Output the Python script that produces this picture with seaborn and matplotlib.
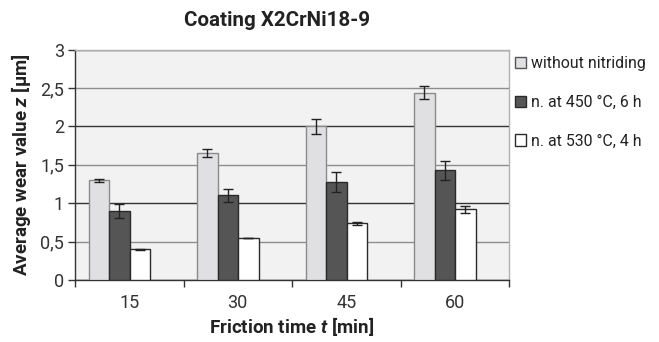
import numpy as np
import pandas as pd
import matplotlib
matplotlib.use('Agg')
import matplotlib.pyplot as plt
import seaborn as sns
from matplotlib.patches import Patch
from matplotlib.ticker import FuncFormatter, FixedLocator

# data
times = ['15', '30', '45', '60']
series = ['without nitriding', 'n. at 450 °C, 6 h', 'n. at 530 °C, 4 h']
wear_plain = [1.30, 1.65, 2.00, 2.44]
wear_450 = [0.90, 1.10, 1.27, 1.43]
wear_530 = [0.40, 0.55, 0.74, 0.92]
err_plain = [0.02, 0.05, 0.10, 0.08]
err_450 = [0.09, 0.09, 0.13, 0.125]
err_530 = [0.005, 0.0, 0.02, 0.045]

fills = ['#e0e0e2', '#555555', '#ffffff']
edges = ['#8a8a8a', '#2a2a2a', '#2a2a2a']

df = pd.DataFrame({
    'time': times * 3,
    'series': np.repeat(series, len(times)),
    'wear': wear_plain + wear_450 + wear_530,
})
vals_all = [wear_plain, wear_450, wear_530]
errs = [err_plain, err_450, err_530]

sns.set_theme(style='white')
plt.rcParams['font.family'] = ['Roboto', 'DejaVu Sans']
plt.rcParams['mathtext.fontset'] = 'custom'
plt.rcParams['mathtext.it'] = 'Roboto:bold:italic'
plt.rcParams['mathtext.rm'] = 'Roboto:bold'

fig = plt.figure(figsize=(6.59, 3.42), dpi=100)
ax = fig.add_axes([75 / 659, 62 / 342, 434 / 659, 230.5 / 342])
ax.set_facecolor('#f2f2f2')

sns.barplot(data=df, x='time', y='wear', hue='series', order=times, hue_order=series,
            palette=fills, width=0.567, gap=0, errorbar=None, legend=False,
            saturation=1, ax=ax, zorder=3)

bar_conts = list(ax.containers)
for i, cont in enumerate(bar_conts):
    xs = []
    for bar in cont:
        bar.set_edgecolor(edges[i])
        bar.set_linewidth(1.0)
        xs.append(bar.get_x() + bar.get_width() / 2)
    ax.errorbar(xs, vals_all[i], yerr=errs[i], fmt='none', ecolor='#222222',
                elinewidth=1.0, capsize=3.8, capthick=1.0, zorder=4)

# axes limits and ticks
ax.set_ylim(0, 3)
ax.set_xlim(-0.41, 3.59)
ax.yaxis.set_major_locator(FixedLocator(np.arange(0, 3.01, 0.5)))
ax.yaxis.set_major_formatter(FuncFormatter(lambda v, p: f'{v:g}'.replace('.', ',')))
ax.tick_params(axis='y', which='major', length=5, width=1, color='#333333',
               direction='out', left=True, labelsize=13, labelcolor='#333333', pad=3)

ax.set_xticks([k + 0.09 for k in range(len(times))])
ax.set_xticklabels(times)
ax.xaxis.set_minor_locator(FixedLocator([k - 0.41 for k in range(len(times) + 1)]))
ax.tick_params(axis='x', which='major', length=0, labelsize=13, labelcolor='#333333', pad=10)
ax.tick_params(axis='x', which='minor', length=5, width=1, color='#333333',
               direction='out', bottom=True)

ax.grid(True, axis='y', zorder=0)
for k, gl in enumerate(ax.get_ygridlines()):
    gl.set_linewidth(1.0)
    gl.set_color('#333333' if k % 2 == 0 else '#8c8c8c')
    gl.set_zorder(1)
ax.set_axisbelow(True)

for side in ['top', 'right']:
    ax.spines[side].set_color('#b0b0b0')
    ax.spines[side].set_linewidth(1.0)
for side in ['left', 'bottom']:
    ax.spines[side].set_color('#333333')
    ax.spines[side].set_linewidth(1.0)

ax.set_xlabel('Friction time $t$ [min]', fontsize=13.5, fontweight='bold', color='#222222', labelpad=2)
ax.set_ylabel('Average wear value $z$ [µm]', fontsize=13.5, fontweight='bold', color='#222222')
ax.yaxis.set_label_coords(-0.097, 0.5)

fig.text(277 / 659, 1 - 20 / 342, 'Coating X2CrNi18-9', ha='center', va='center',
         fontsize=14.8, fontweight='bold', color='#222222')

handles = [Patch(facecolor=fills[i], edgecolor=edges[i] if i else '#555555', linewidth=1.0)
           for i in range(3)]
fig.legend(handles, series, loc='upper left', bbox_to_anchor=(515 / 659, 1 - 56 / 342),
           frameon=False, fontsize=11.4, handlelength=0.7, handleheight=0.7,
           handletextpad=0.3, labelspacing=1.5, borderpad=0, borderaxespad=0,
           labelcolor='#222222')

plt.savefig('out.png', dpi=100)
plt.close()
